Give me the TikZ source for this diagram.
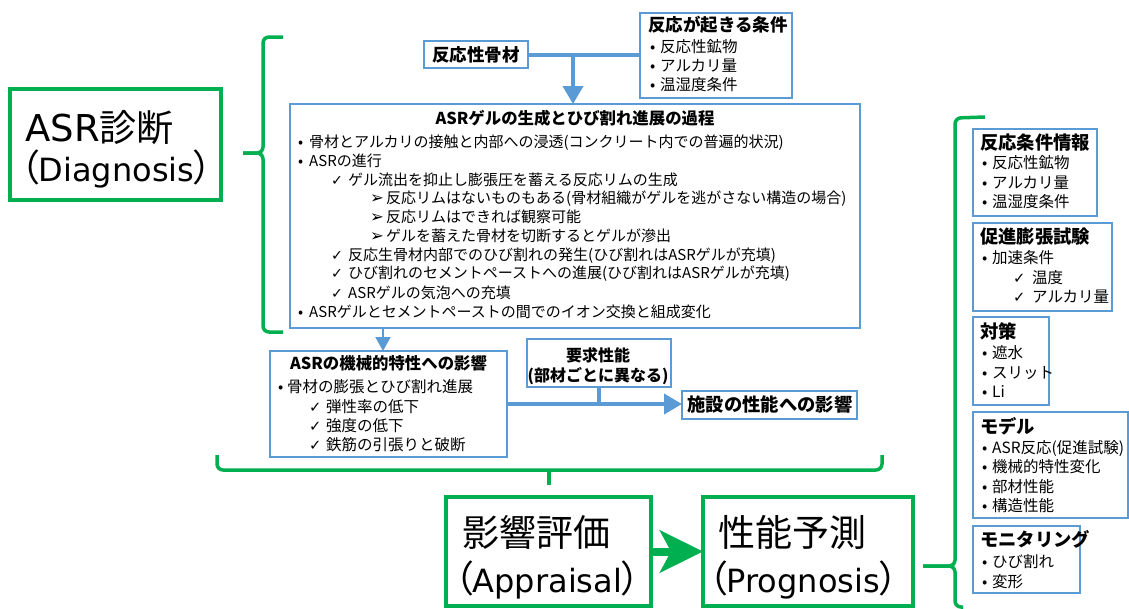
\documentclass[tikz,border=0pt]{standalone}
\usepackage{fontspec}
\setmainfont{Noto Sans CJK JP}
\newfontfamily\bigjp{Noto Sans CJK JP}[RawFeature=+palt]
\newfontfamily\symf{DejaVu Sans}
\usetikzlibrary{arrows.meta}
\definecolor{asrgreen}{HTML}{00B050}
\definecolor{asrblue}{HTML}{5B9BD5}
\definecolor{boxblue}{HTML}{5B9BD5}
\newcommand\bul[2]{\makebox[#1pt][l]{#2}}
\newcommand\ckm{{\symf\scalebox{0.95}{✓}}}
\newcommand\arh{{\symf\scalebox{1.1}{➢}}}
\newcommand\lat[1]{{\symf\fontsize{32}{36}\selectfont #1}}
\begin{document}
\begin{tikzpicture}[x=1pt,y=-1pt,
  bbox/.style={draw=boxblue,line width=1.2pt,anchor=north west,inner sep=0pt,outer sep=0pt},
  gbox/.style={draw=asrgreen,line width=3.5pt,anchor=north west,inner sep=0pt,outer sep=0pt},
  t/.style={anchor=base west,inner sep=0pt,font=\fontsize{15}{18}\selectfont},
  ti/.style={anchor=base west,inner sep=0pt,font=\fontsize{15.5}{18}\selectfont},
  tb/.style={anchor=base,inner sep=0pt,font=\fontsize{16.4}{18}\selectfont\bfseries},
  th/.style={anchor=base west,inner sep=0pt,font=\fontsize{18.3}{20}\selectfont\bfseries},
  tbig/.style={anchor=base west,inner sep=0pt,font=\fontsize{37}{40}\selectfont\bigjp},
  bline/.style={draw=asrblue,line width=4pt},
  barrow/.style={draw=asrblue,line width=4pt,-{Triangle[length=18pt,width=20pt]}},
  sarrow/.style={draw=asrblue,line width=2pt,-{Triangle[length=14pt,width=15pt]}},
  gbrace/.style={draw=asrgreen,line width=3.5pt,rounded corners=6pt},
  garrow/.style={draw=asrgreen,line width=8pt,-{Stealth[length=43pt,width=42pt,inset=11pt]}}
]
\useasboundingbox (0,0) rectangle (1129,608);

% ---------- left: ASR diagnosis ----------
\node[gbox,minimum width=211pt,minimum height=111pt] (diag) at (10,89) {};
\node[tbig] (diag1) at (25,141.4) {{\symf ASR}診断};
\node[tbig] (diag2) at (20,181.4) {（\lat{Diagnosis}）};
\draw[gbrace] (283,37) -- (263,37) -- (263,153) -- (243,153);
\draw[gbrace] (243,153) -- (263,153) -- (263,332) -- (283,332);

% ---------- top ----------
\node[bbox,minimum width=104pt,minimum height=27pt] (kotsu) at (424,41) {};
\node[tb,font=\fontsize{17.5}{18}\selectfont\bfseries] (kotsut) at (476,61.7) {反応性骨材};
\node[bbox,minimum width=152pt,minimum height=85pt] (joken) at (640,13) {};
\node[th,font=\fontsize{17.5}{18}\selectfont\bfseries] (joken0) at (648,31.7) {反応が起きる条件};
\node[ti] (joken1) at (650,52.9) {\bul{10}{•}反応性鉱物};
\node[ti] (joken2) at (650,71.9) {\bul{10}{•}アルカリ量};
\node[ti] (joken3) at (650,90.9) {\bul{10}{•}温湿度条件};
\coordinate (jn) at (573,54.5);
\draw[bline] (kotsu.east) -- (kotsu.east -| joken.west);

% ---------- central process box ----------
\node[bbox,minimum width=570pt,minimum height=224pt] (proc) at (290,104) {};
\draw[barrow] (jn) -- (jn |- proc.north);
\node[tb] (proc0) at (575,124.2) {ASRゲルの生成とひび割れ進展の過程};
\node[t] (proc1) at (298,147.7) {\bul{11}{•}骨材とアルカリの接触と内部への浸透(コンクリート内での普遍的状況)};
\node[t] (proc2) at (298,166.7) {\bul{11}{•}ASRの進行};
\node[t] (proc3) at (331,185.7) {\bul{17}{\ckm}ゲル流出を抑止し膨張圧を蓄える反応リムの生成};
\node[t] (proc4) at (370,203.7) {\bul{16}{\arh}反応リムはないものもある(骨材組織がゲルを逃がさない構造の場合)};
\node[t] (proc5) at (370,222.7) {\bul{16}{\arh}反応リムはできれば観察可能};
\node[t] (proc6) at (370,241.7) {\bul{16}{\arh}ゲルを蓄えた骨材を切断するとゲルが滲出};
\node[t] (proc7) at (331,260.7) {\bul{17}{\ckm}反応生骨材内部でのひび割れの発生(ひび割れはASRゲルが充填)};
\node[t] (proc8) at (331,278.7) {\bul{17}{\ckm}ひび割れのセメントペーストへの進展(ひび割れはASRゲルが充填)};
\node[t] (proc9) at (331,298.7) {\bul{17}{\ckm}ASRゲルの気泡への充填};
\node[t] (proc10) at (298,317.7) {\bul{11}{•}ASRゲルとセメントペーストの間でのイオン交換と組成変化};

% ---------- mechanical properties ----------
\node[bbox,minimum width=237pt,minimum height=106pt] (mech) at (270,351) {};
\coordinate (mj) at (383,0);
\draw[sarrow] (mj |- proc.south) -- (mj |- mech.north);
\node[tb] (mech0) at (388.5,369.2) {ASRの機械的特性への影響};
\node[ti] (mech1) at (278,392.9) {\bul{9}{•}骨材の膨張とひび割れ進展};
\node[ti] (mech2) at (309,412.9) {\bul{17}{\ckm}弾性率の低下};
\node[ti] (mech3) at (309,431.9) {\bul{17}{\ckm}強度の低下};
\node[ti] (mech4) at (309,450.9) {\bul{17}{\ckm}鉄筋の引張りと破断};

\node[bbox,minimum width=144pt,minimum height=48pt] (yokyu) at (527,339) {};
\node[tb,font=\fontsize{16}{18}\selectfont\bfseries] (yokyu1) at (598,361.1) {要求性能};
\node[tb,font=\fontsize{16}{18}\selectfont\bfseries] (yokyu2) at (598,381.1) {(部材ごとに異なる)};

\node[bbox,minimum width=175pt,minimum height=28pt] (shise) at (682,391) {};
\node[tb,font=\fontsize{18.3}{20}\selectfont\bfseries] (shiset) at (770,411.8) {施設の性能への影響};
\draw[barrow] (mech.east) -- (mech.east -| shise.west);
\draw[bline] (yokyu.south) -- (yokyu.south |- mech.east);

% ---------- bottom ----------
\draw[gbrace] (217,455) -- (217,470) -- (882,470) -- (882,455);
\draw[gbrace,rounded corners=0pt] (549,470) -- (549,485);
\node[gbox,minimum width=205pt,minimum height=109pt] (eikyo) at (446,497) {};
\node[tbig] (eikyo1) at (462,546.4) {影響評価};
\node[tbig] (eikyo2) at (454,592.4) {（\lat{Appraisal}）};
\node[gbox,minimum width=210pt,minimum height=109pt] (yosoku) at (703,497) {};
\node[tbig] (yosoku1) at (718,546.4) {性能予測};
\node[tbig] (yosoku2) at (708,592.4) {（\lat{Prognosis}）};
\draw[garrow] (eikyo.east) -- (yosoku.west);

% ---------- right column ----------
\draw[gbrace] (985,117) -- (955,118) -- (955,566) -- (923,566);
\draw[gbrace] (923,566) -- (955,566) -- (955,607) -- (963,607);

\node[bbox,minimum width=124pt,minimum height=87pt] (r1) at (973,129) {};
\node[th] (r1t) at (980,149.8) {反応条件情報};
\node[ti] (r1a) at (982,168.9) {\bul{10}{•}反応性鉱物};
\node[ti] (r1b) at (982,188.9) {\bul{10}{•}アルカリ量};
\node[ti] (r1c) at (982,207.9) {\bul{10}{•}温湿度条件};

\node[bbox,minimum width=139pt,minimum height=88pt] (r2) at (973,223) {};
\node[th] (r2t) at (980,243.8) {促進膨張試験};
\node[ti] (r2a) at (982,263.9) {\bul{10}{•}加速条件};
\node[ti] (r2b) at (1013,283.9) {\bul{19}{\ckm}温度};
\node[ti] (r2c) at (1013,302.9) {\bul{19}{\ckm}アルカリ量};

\node[bbox,minimum width=76pt,minimum height=88pt] (r3) at (973,317) {};
\node[th] (r3t) at (980,338.8) {対策};
\node[ti] (r3a) at (982,358.9) {\bul{10}{•}遮水};
\node[ti] (r3b) at (982,378.9) {\bul{10}{•}スリット};
\node[ti] (r3c) at (982,397.9) {\bul{10}{•}Li};

\node[bbox,minimum width=155pt,minimum height=106pt] (r4) at (973,412) {};
\node[th] (r4t) at (980,433.8) {モデル};
\node[ti] (r4a) at (982,453.9) {\bul{10}{•}ASR反応(促進試験)};
\node[ti] (r4b) at (982,472.9) {\bul{10}{•}機械的特性変化};
\node[ti] (r4c) at (982,492.9) {\bul{10}{•}部材性能};
\node[ti] (r4d) at (982,511.9) {\bul{10}{•}構造性能};

\node[bbox,minimum width=107pt,minimum height=67pt] (r5) at (973,526) {};
\node[th] (r5t) at (980,546.8) {モニタリング};
\node[ti] (r5a) at (982,567.9) {\bul{10}{•}ひび割れ};
\node[ti] (r5b) at (982,587.9) {\bul{10}{•}変形};
\end{tikzpicture}
\end{document}
